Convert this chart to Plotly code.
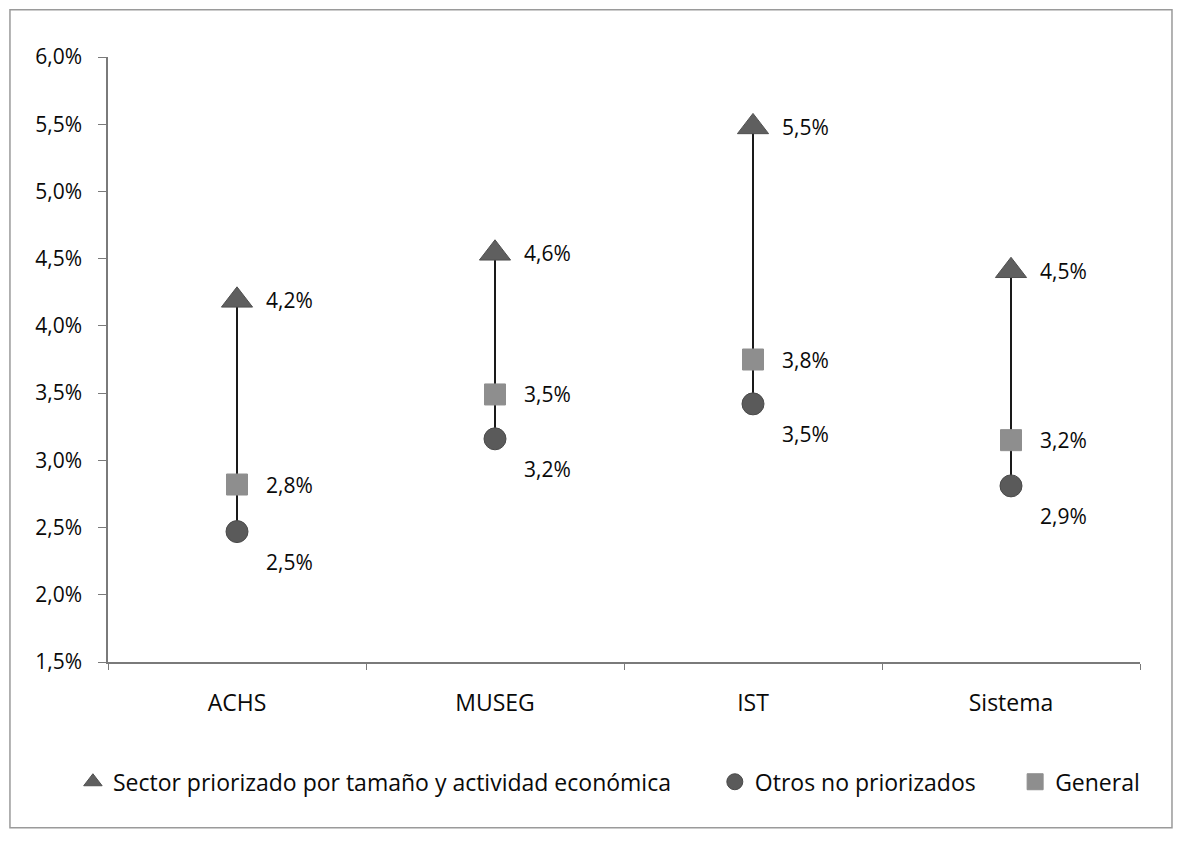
import plotly.graph_objects as go

categories = ["ACHS", "MUSEG", "IST", "Sistema"]
sector_priorizado = [4.19, 4.54, 5.48, 4.41]
otros_no_priorizados = [2.47, 3.16, 3.42, 2.81]
general = [2.82, 3.49, 3.75, 3.15]
sector_labels = ["4,2%", "4,6%", "5,5%", "4,5%"]
otros_labels = ["2,5%", "3,2%", "3,5%", "2,9%"]
general_labels = ["2,8%", "3,5%", "3,8%", "3,2%"]
y_ticks = [1.5, 2.0, 2.5, 3.0, 3.5, 4.0, 4.5, 5.0, 5.5, 6.0]
y_ticktext = [f"{v:.1f}%".replace(".", ",") for v in y_ticks]

FONT = "Open Sans"
TXT = "#0a0a0a"
fig = go.Figure()

# vertical connector lines (min to max)
lx, ly = [], []
for c, lo, hi in zip(categories, otros_no_priorizados, sector_priorizado):
    lx += [c, c, None]
    ly += [lo, hi, None]
fig.add_trace(go.Scatter(x=lx, y=ly, mode="lines", line=dict(color="#1a1a1a", width=2),
                         showlegend=False, hoverinfo="skip"))

fig.add_trace(go.Scatter(x=categories, y=sector_priorizado, mode="markers",
                         name="Sector priorizado por tamaño y actividad económica",
                         legend="legend",
                         marker=dict(symbol="triangle-up", size=27, color="#5f5f5f",
                                     line=dict(color="#505050", width=1))))
fig.add_trace(go.Scatter(x=categories, y=otros_no_priorizados, mode="markers",
                         name="Otros no priorizados", legend="legend2",
                         marker=dict(symbol="circle", size=22, color="#5a5a5a",
                                     line=dict(color="#4a4a4a", width=1))))
fig.add_trace(go.Scatter(x=categories, y=general, mode="markers",
                         name="General", legend="legend3",
                         marker=dict(symbol="square", size=21, color="#8e8e8e",
                                     line=dict(color="#8e8e8e", width=1))))

annotations = []
for c, v, t in zip(categories, sector_priorizado, sector_labels):
    annotations.append(dict(x=c, y=v, text=t, xanchor="left", yanchor="middle",
                            xshift=27, showarrow=False))
for c, v, t in zip(categories, general, general_labels):
    annotations.append(dict(x=c, y=v, text=t, xanchor="left", yanchor="middle",
                            xshift=27, showarrow=False))
for c, v, t in zip(categories, otros_no_priorizados, otros_labels):
    annotations.append(dict(x=c, y=v, text=t, xanchor="left", yanchor="middle",
                            xshift=27, yshift=-30, showarrow=False))
for a in annotations:
    a["font"] = dict(family=FONT, size=21, color=TXT)

legend_common = dict(orientation="h", yanchor="middle", xanchor="left", y=-0.198,
                     font=dict(family=FONT, size=23, color=TXT),
                     itemwidth=30, bgcolor="rgba(0,0,0,0)")

fig.update_layout(
    width=1182, height=845,
    margin=dict(l=100, r=50, t=49, b=191, autoexpand=False),
    paper_bgcolor="white", plot_bgcolor="white",
    font=dict(family=FONT, size=21, color=TXT),
    annotations=annotations,
    showlegend=True,
    legend=dict(legend_common, x=-0.034),
    legend2=dict(legend_common, x=0.588),
    legend3=dict(legend_common, x=0.879),
    shapes=[dict(type="rect", xref="paper", yref="paper", x0=-0.095, x1=1.031,
                 y0=-0.274, y1=1.078, line=dict(color="#9a9a9a", width=1.5))],
)
fig.update_xaxes(type="category", range=[-0.5, 3.5], showline=True, linecolor="#7a7a7a",
                 linewidth=1.5, ticks="outside", tickson="boundaries", ticklen=6,
                 tickcolor="#7a7a7a", showgrid=False, zeroline=False, automargin=False,
                 ticklabelstandoff=20,
                 tickfont=dict(family=FONT, size=23, color=TXT))
fig.update_yaxes(range=[1.5, 6.0], tickvals=y_ticks, ticktext=y_ticktext,
                 showline=True, linecolor="#7a7a7a", linewidth=1.5, ticks="outside",
                 ticklen=8, tickcolor="#7a7a7a", showgrid=False, zeroline=False,
                 automargin=False, ticklabelstandoff=12,
                 tickfont=dict(family=FONT, size=21, color=TXT))

fig.write_html("out.html")
